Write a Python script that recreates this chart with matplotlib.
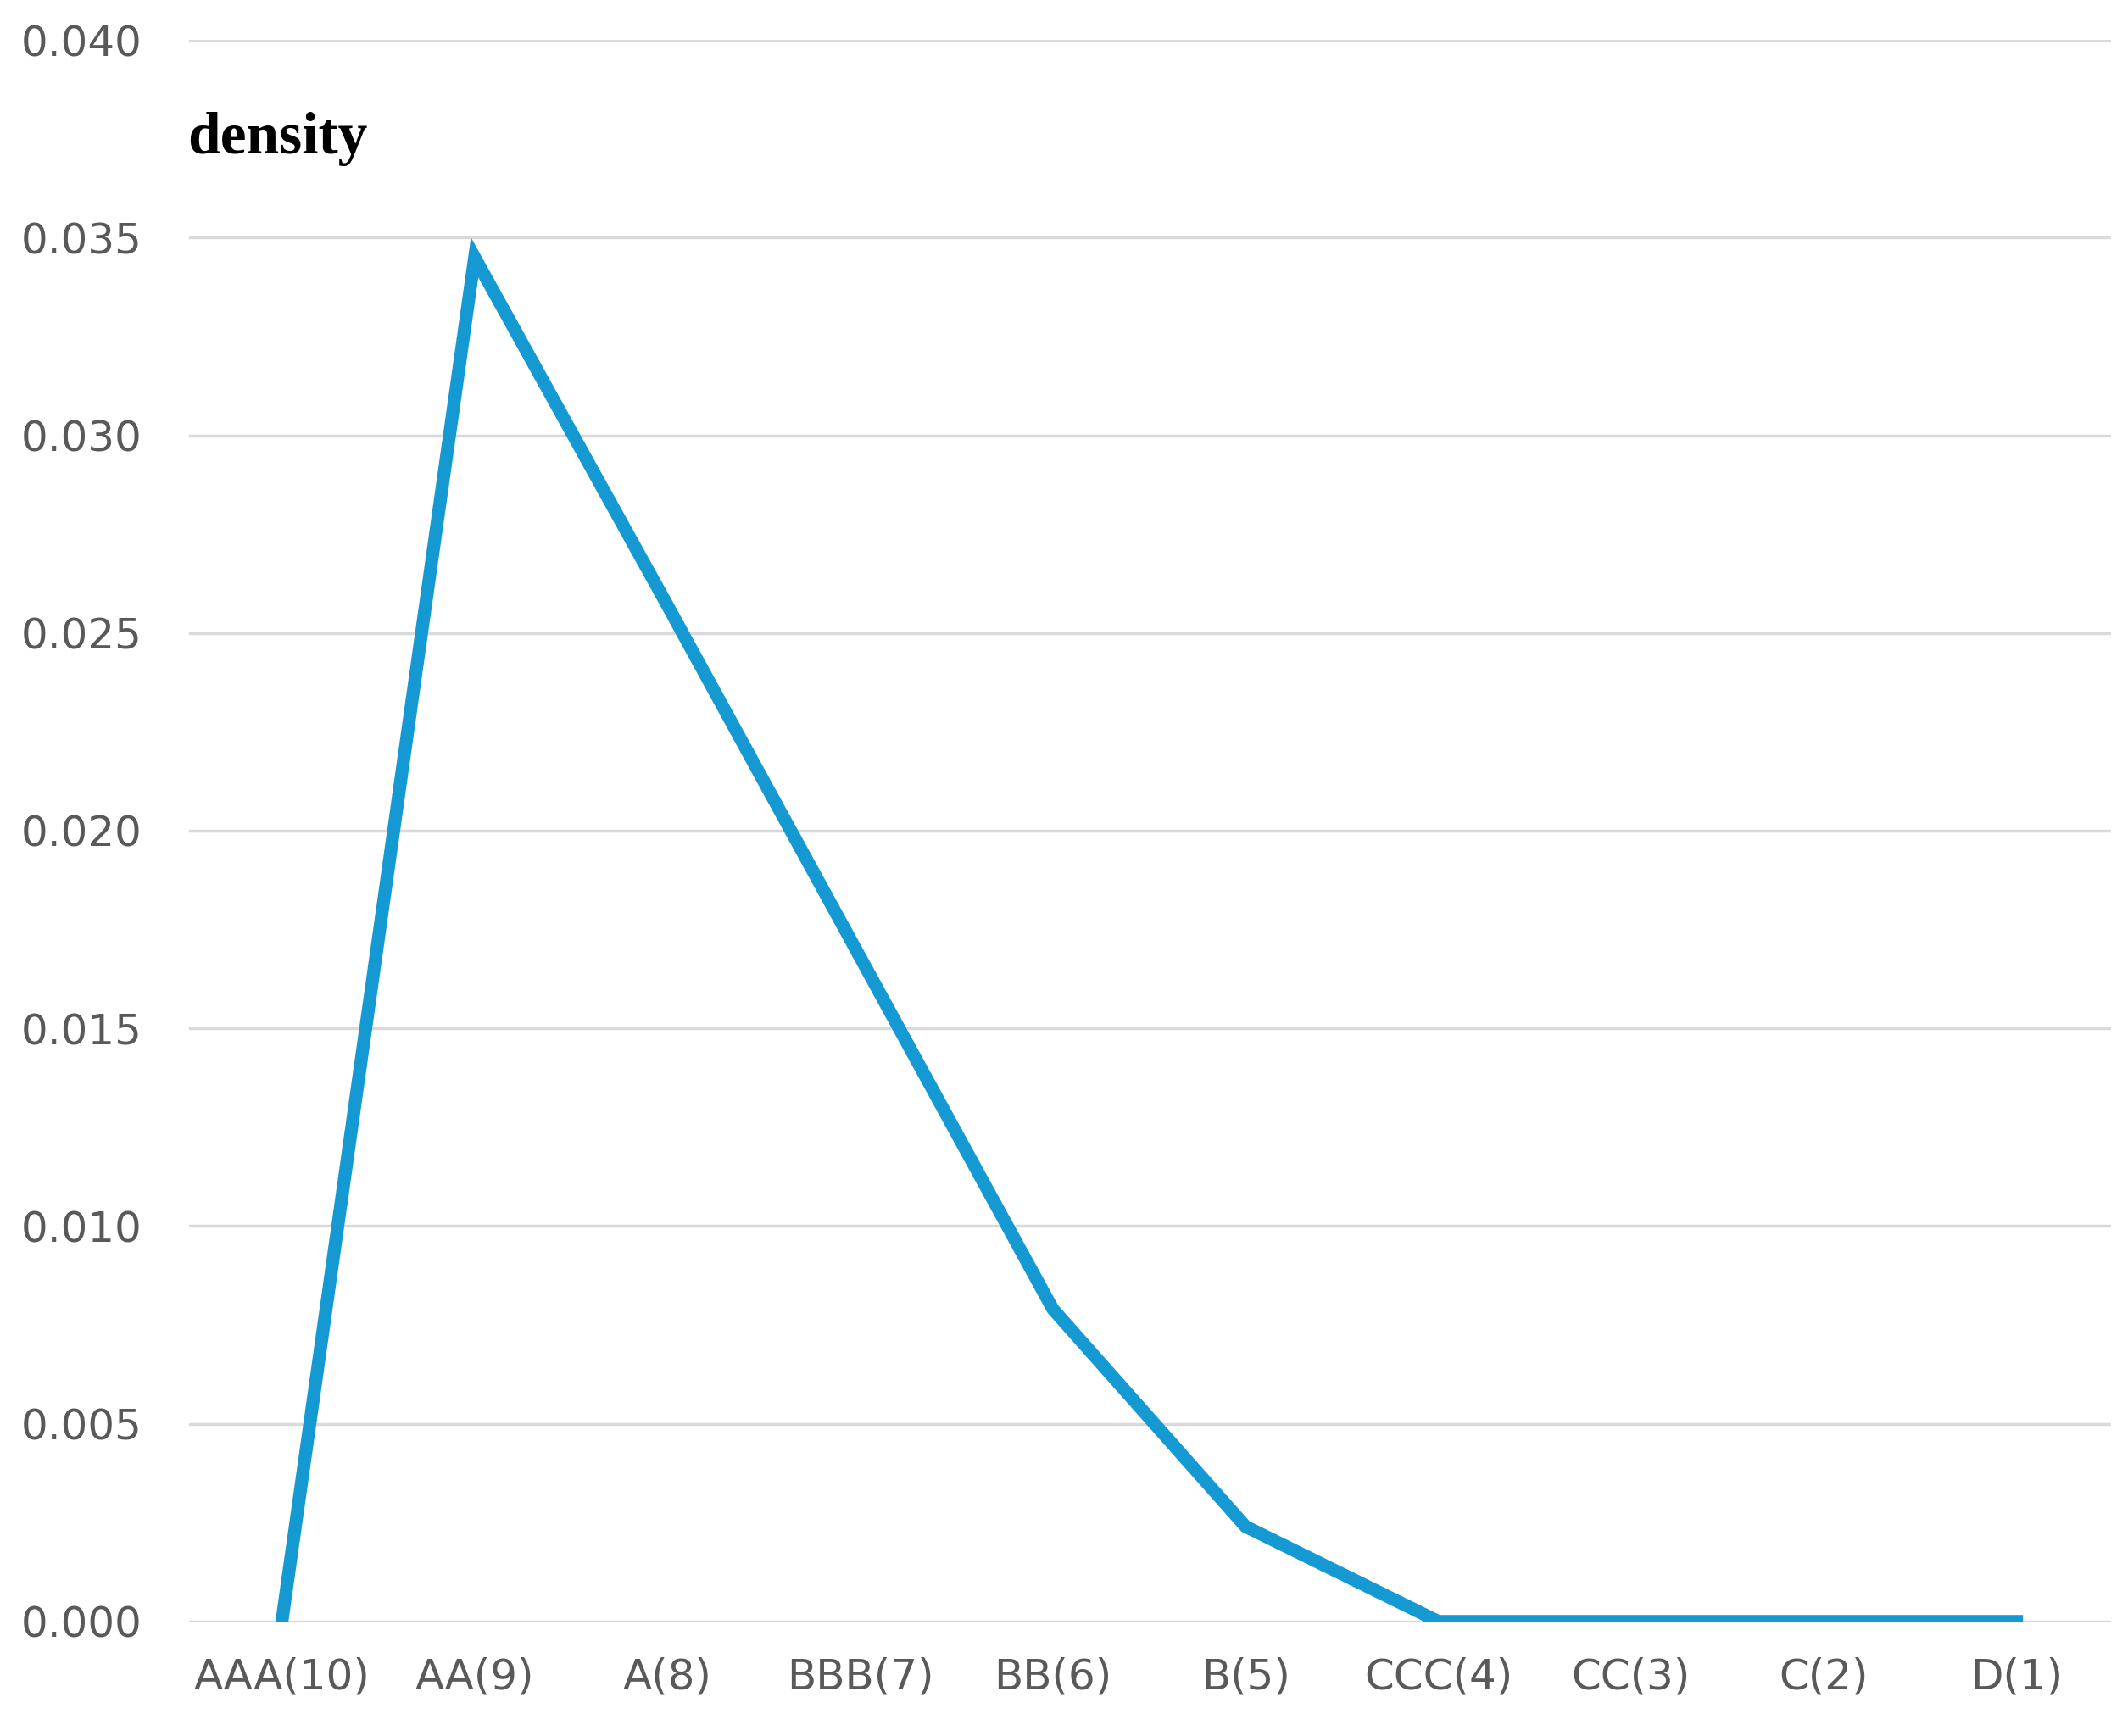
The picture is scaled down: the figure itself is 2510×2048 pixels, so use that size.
import matplotlib.pyplot as plt

# credit ratings and estimated density
ratings = ["AAA(10)", "AA(9)", "A(8)", "BBB(7)", "BB(6)", "B(5)", "CCC(4)", "CC(3)", "C(2)", "D(1)"]
density = [0.0, 0.0345, 0.0257, 0.0168, 0.0079, 0.0024, 0.0, 0.0, 0.0, 0.0]
yticks = [0.000, 0.005, 0.010, 0.015, 0.020, 0.025, 0.030, 0.035, 0.040]

fig = plt.figure(figsize=(25.1, 20.48), dpi=100)
ax = fig.add_axes([0.089, 0.066, 0.903, 0.911])

x = list(range(len(ratings)))
ax.plot(x, density, color="#1499d3", linewidth=11, solid_joinstyle="miter")

ax.set_xlim(-0.48, 9.49)
ax.set_ylim(0, 0.040)
ax.set_yticks(yticks)
ax.set_yticklabels([f"{v:.3f}" for v in yticks])
ax.set_xticks(x)
ax.set_xticklabels(ratings)
ax.grid(axis="y", color="#d9d9d9", linewidth=2.5)
ax.set_axisbelow(True)
for s in ax.spines.values():
    s.set_visible(False)
ax.tick_params(length=0, labelsize=36, colors="#595959")
ax.tick_params(axis="y", pad=40)
ax.tick_params(axis="x", pad=30)

ax.text(-0.49, 0.0375, "density", fontsize=50, fontweight="bold",
        family="Liberation Serif", va="center", ha="left")

fig.savefig("out.png", dpi=100)
